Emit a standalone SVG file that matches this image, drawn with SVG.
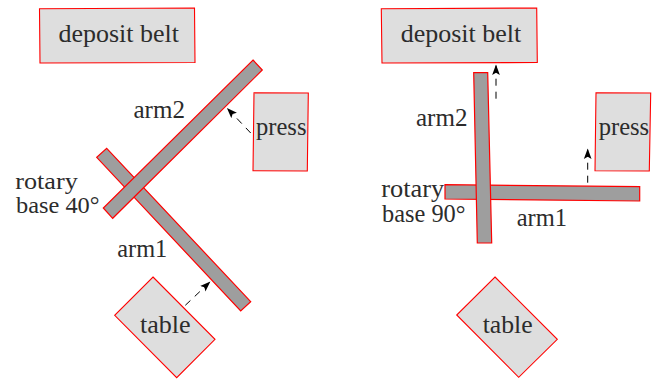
<svg xmlns="http://www.w3.org/2000/svg" width="653" height="379" viewBox="0 0 653 379">
<style>
.box{fill:#dedede;stroke:#f00;stroke-width:1.1;stroke-linejoin:miter}
.arm{fill:#9e9e9e;stroke:#f00;stroke-width:1.2}
text{font-family:"Liberation Serif","Times New Roman",serif;font-size:25px;fill:#2c2c2c}
.tight{font-size:24px}
.conn{fill:none;stroke:#000;stroke-width:1;stroke-dasharray:7 6}
</style>
<defs>
<marker id="tip" markerUnits="userSpaceOnUse" markerWidth="11" markerHeight="9" refX="9" refY="3.5" orient="auto" viewBox="0 0 10 7">
<path d="M0 0L9.5 3.5L0 7L2 3.5Z" fill="#000"/>
</marker>
</defs>
<rect width="653" height="379" fill="#fff"/>
<g id="left-belt"><polygon class="box" points="39.5,8.7 194.5,8 195,62.5 40,63"/><text x="58.5" y="41.7" textLength="120.5" lengthAdjust="spacingAndGlyphs">deposit belt</text></g>
<g id="left-press"><polygon class="box" points="254,92.7 308.3,93 307.3,171 253,170.7"/><text x="256" y="135" textLength="50.5" lengthAdjust="spacingAndGlyphs">press</text></g>
<g id="left-table"><polygon class="box" points="153,277 215,339.3 176.7,377.7 114.7,315.3"/><text x="140" y="333.3" textLength="50.7" lengthAdjust="spacingAndGlyphs">table</text></g>
<g id="left-arm1"><polygon class="arm" points="106.7,148.3 250.7,301.7 240.7,311 96.7,157.3"/></g>
<g id="left-arm2"><polygon class="arm" points="253,60 262.3,70 112.7,218.3 103.3,208"/></g>
<g id="left-labels"><text x="133.5" y="117.7" textLength="51.5" lengthAdjust="spacingAndGlyphs">arm2</text><text x="117.3" y="257.3" textLength="50" lengthAdjust="spacingAndGlyphs">arm1</text><text class="tight" x="15.3" y="189.3" textLength="62.5" lengthAdjust="spacingAndGlyphs">rotary</text><text class="tight" x="16" y="213" textLength="83.5" lengthAdjust="spacingAndGlyphs">base 40°</text></g>
<g id="right-belt"><polygon class="box" points="381.3,8.7 536.7,8 537.3,62.5 382,63"/><text x="400.7" y="41.7" textLength="120.5" lengthAdjust="spacingAndGlyphs">deposit belt</text></g>
<g id="right-press"><polygon class="box" points="596,92.7 650.7,93 649.3,171 595,170.7"/><text x="598.7" y="135" textLength="50.5" lengthAdjust="spacingAndGlyphs">press</text></g>
<g id="right-table"><polygon class="box" points="495,277 557.3,339.3 518.7,377.3 456.7,315"/><text x="482.7" y="333.3" textLength="50" lengthAdjust="spacingAndGlyphs">table</text></g>
<g id="right-arm1"><polygon class="arm" points="445,184.7 639.7,186.7 639.7,201 445,199"/></g>
<g id="right-arm2"><polygon class="arm" points="473.7,72.7 487.7,72.7 491.7,243 477.3,243"/></g>
<g id="right-labels"><text x="416" y="126" textLength="51.5" lengthAdjust="spacingAndGlyphs">arm2</text><text x="516.7" y="225.7" textLength="50.3" lengthAdjust="spacingAndGlyphs">arm1</text><text x="381.3" y="196.7" textLength="63" lengthAdjust="spacingAndGlyphs">rotary</text><text x="382" y="221.5" textLength="83.5" lengthAdjust="spacingAndGlyphs">base 90°</text></g>
<g id="connectors">
<path class="conn" marker-end="url(#tip)" d="M250.7 133L227.3 108.3"/>
<path class="conn" marker-end="url(#tip)" d="M185.3 305.3L210 282"/>
<path class="conn" marker-end="url(#tip)" d="M496 98.7V65"/>
<path class="conn" marker-end="url(#tip)" d="M587.7 182.7V149"/>
</g>
</svg>
